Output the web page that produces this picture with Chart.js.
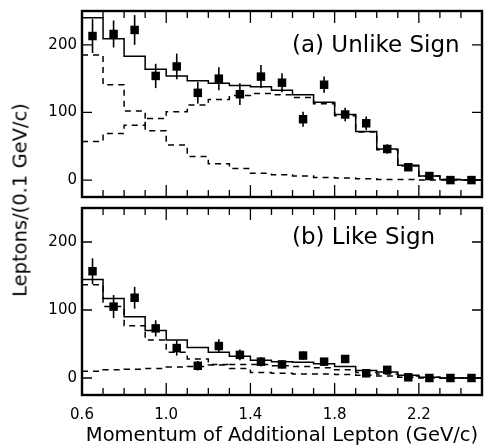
<!DOCTYPE html>
<html lang="en">
<head>
    <meta charset="UTF-8">
    <title>Momentum of Additional Lepton</title>
    <style>
        body {
            margin: 0;
            background: #fff;
            font-family: "DejaVu Sans", sans-serif;
            color: #000;
        }
        #wrap {
            position: relative;
            width: 488px;
            height: 448px;
            overflow: hidden;
        }
        canvas {
            position: absolute;
            left: 0;
        }
        #chartA { top: 0; }
        #chartB { top: 202px; }
        .tag {
            position: absolute;
            left: 292px;
            font-size: 23px;
            line-height: 23px;
            white-space: nowrap;
        }
        #ytitle {
            position: absolute;
            left: 20px;
            top: 200px;
            font-size: 19.5px;
            white-space: nowrap;
            transform: translate(-50%, -50%) rotate(-90deg);
        }
    </style>
</head>
<body>
    <div id="wrap">
        <canvas id="chartA" width="488" height="203"></canvas>
        <canvas id="chartB" width="488" height="246"></canvas>
        <div class="tag" style="top:33px">(a) Unlike Sign</div>
        <div class="tag" style="top:225px">(b) Like Sign</div>
        <div id="ytitle">Leptons/(0.1 GeV/c)</div>
    </div>

    <script src="https://cdn.jsdelivr.net/npm/chart.js"></script>
    <script>
        // bin centres (GeV/c), 0.1 GeV/c wide bins
        const binCentres = [0.65, 0.75, 0.85, 0.95, 1.05, 1.15, 1.25, 1.35, 1.45, 1.55,
                            1.65, 1.75, 1.85, 1.95, 2.05, 2.15, 2.25, 2.35, 2.45];

        // (a) unlike sign
        const dataA  = [213, 216, 222, 154, 168, 129, 150, 127, 153, 144, 90, 141, 97, 84, 46, 19, 6, 0, 0];
        const errA   = [25, 20, 22, 18, 19, 16, 17, 16, 17, 14, 11, 12, 10, 10, 7, 4, 3, 1, 1];
        const totalA = [240, 209, 183, 164, 154, 147, 143, 140, 138, 133, 126, 115, 97, 72, 46, 22, 6, 1, 0];
        const fallA  = [185, 141, 102, 73, 52, 35, 24, 17, 10, 8, 6, 4, 3, 2, 1, 1, 0, 0, 0];
        const riseA  = [57, 69, 81, 91, 101, 111, 119, 125, 128, 126, 122, 113, 95, 71, 45, 21, 6, 1, 0];

        // (b) like sign
        const dataB  = [157, 105, 118, 73, 44, 18, 47, 34, 24, 20, 33, 24, 28, 7, 12, 1, 0, 0, 0];
        const errB   = [19, 17, 16, 12, 11, 7, 10, 8, 7, 6, 6, 5, 5, 6, 4, 2, 1, 1, 1];
        const totalB = [145, 117, 90, 70, 56, 45, 38, 32, 26, 24, 23, 21, 17, 11, 9, 4, 1, 0, 0];
        const fallB  = [137, 105, 77, 56, 38, 28, 20, 14, 8, 7, 6, 6, 5, 4, 3, 1, 0, 0, 0];
        const riseB  = [10, 12, 13, 14, 16, 17, 19, 20, 20, 18, 17, 15, 12, 8, 6, 3, 1, 0, 0];

        const xLabels = [0.6, 1.0, 1.4, 1.8, 2.2];
        const yLabels = [0, 100, 200];

        Chart.defaults.color = '#000';
        Chart.defaults.font.family = '"DejaVu Sans", sans-serif';

        // step histogram: value held from low edge of each bin to the next
        function histPoints(vals) {
            const pts = binCentres.map((c, i) => ({ x: c - 0.05, y: vals[i] }));
            pts.push({ x: binCentres[binCentres.length - 1] + 0.05, y: vals[vals.length - 1] });
            return pts;
        }

        function histSet(vals, dashed) {
            return {
                data: histPoints(vals),
                showLine: true,
                stepped: 'before',
                borderColor: '#000',
                borderWidth: 1.5,
                borderDash: dashed ? [6, 5] : [],
                pointRadius: 0,
                fill: false
            };
        }

        // frame, inward ticks and error bars
        const framePlugin = {
            id: 'frame',
            afterDatasetsDraw(chart) {
                const ctx = chart.ctx;
                const a = chart.chartArea;
                const xs = chart.scales.x, ys = chart.scales.y;
                ctx.save();
                ctx.strokeStyle = '#000';

                // error bars
                ctx.lineWidth = 1.6;
                chart.data.datasets.forEach((ds, i) => {
                    if (!ds.errors) return;
                    const meta = chart.getDatasetMeta(i);
                    ds.data.forEach((d, j) => {
                        const px = meta.data[j].x;
                        ctx.beginPath();
                        ctx.moveTo(px, ys.getPixelForValue(d.y - ds.errors[j]));
                        ctx.lineTo(px, ys.getPixelForValue(d.y + ds.errors[j]));
                        ctx.stroke();
                    });
                });

                // ticks
                ctx.lineWidth = 1.3;
                ctx.beginPath();
                for (let k = 7; k < 25; k++) {
                    const px = xs.getPixelForValue(k / 10);
                    const len = (k % 4 === 2) ? 12 : 7;
                    ctx.moveTo(px, a.top); ctx.lineTo(px, a.top + len);
                    ctx.moveTo(px, a.bottom); ctx.lineTo(px, a.bottom - len);
                }
                ys.ticks.forEach(t => {
                    if (t.value < 0 || t.value >= ys.max) return;
                    const py = ys.getPixelForValue(t.value);
                    const len = (t.value % 100 === 0) ? 10 : 6;
                    ctx.moveTo(a.left, py); ctx.lineTo(a.left + len, py);
                    ctx.moveTo(a.right, py); ctx.lineTo(a.right - len, py);
                });
                ctx.stroke();

                ctx.lineWidth = 2.4;
                ctx.strokeRect(a.left, a.top, a.right - a.left, a.bottom - a.top);
                ctx.restore();
            }
        };

        function noPad(s) {
            s.paddingTop = 0;
            s.paddingBottom = 0;
            s.paddingLeft = 0;
            s.paddingRight = 0;
        }

        function makeChart(id, points, errors, total, fall, rise, bottom) {
            const ctx = document.getElementById(id).getContext('2d');
            return new Chart(ctx, {
                type: 'scatter',
                data: {
                    datasets: [
                        {
                            data: binCentres.map((c, i) => ({ x: c, y: points[i] })),
                            errors: errors,
                            pointStyle: 'rect',
                            pointRadius: 6,
                            backgroundColor: '#000',
                            borderColor: '#000',
                            borderWidth: 0
                        },
                        histSet(total, false),
                        histSet(fall, true),
                        histSet(rise, true)
                    ]
                },
                options: {
                    responsive: false,
                    animation: false,
                    events: [],
                    layout: { padding: bottom ? { top: 0, right: 0, bottom: 0, left: 0 }
                                             : { top: 11, right: 0, bottom: 1, left: 0 } },
                    plugins: { legend: { display: false }, tooltip: { enabled: false } },
                    scales: {
                        x: {
                            type: 'linear',
                            min: 0.6,
                            max: 2.5,
                            display: bottom,
                            grid: { display: false, drawTicks: false },
                            border: { display: false },
                            ticks: {
                                stepSize: 0.1,
                                autoSkip: false,
                                maxRotation: 0,
                                padding: 11,
                                font: { size: 15 },
                                callback: v => xLabels.some(l => Math.abs(l - v) < 1e-6) ? v.toFixed(1) : null
                            },
                            title: {
                                display: true,
                                text: 'Momentum of Additional Lepton (GeV/c)',
                                font: { size: 19.5 },
                                padding: { top: 0, bottom: 0 }
                            },
                            afterFit: s => { noPad(s); s.height = bottom ? 53 : 0; }
                        },
                        y: {
                            min: -25,
                            max: 250,
                            grid: { display: false, drawTicks: false },
                            border: { display: false },
                            ticks: {
                                stepSize: 50,
                                includeBounds: false,
                                padding: 5,
                                font: { size: 15 },
                                callback: v => yLabels.includes(v) ? String(v) : null
                            },
                            afterFit: s => { noPad(s); s.width = 82; }
                        }
                    }
                },
                plugins: [framePlugin]
            });
        }

        makeChart('chartA', dataA, errA, totalA, fallA, riseA, false);
        makeChart('chartB', dataB, errB, totalB, fallB, riseB, true);
    </script>
</body>
</html>
